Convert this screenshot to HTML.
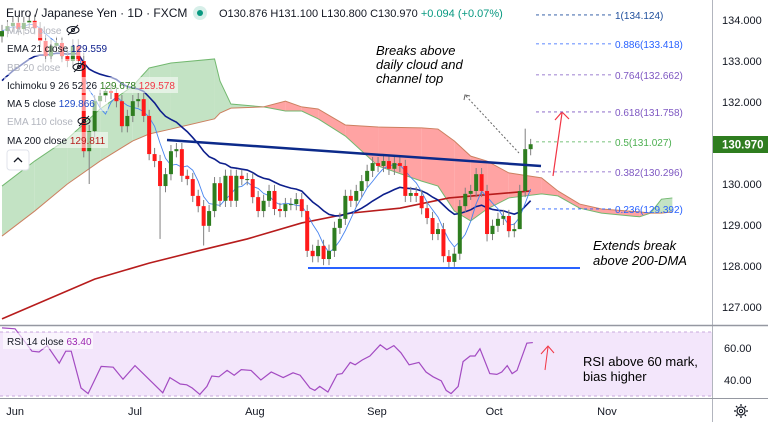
<!DOCTYPE html>
<html><head><meta charset="utf-8"><style>
html,body{margin:0;padding:0;background:#fff;}
svg{display:block;font-family:"Liberation Sans",sans-serif;}
</style></head><body>
<svg id="c" width="768" height="422" viewBox="0 0 768 422">
<rect x="0" y="0" width="768" height="422" fill="#fff"/>
<g id="cloud"></g>
<g id="lines"></g>
<g id="candles"></g>
<g id="draw">
  <line x1="167" y1="140" x2="541" y2="166" stroke="#0c2a8a" stroke-width="2.5"/>
  <line x1="308" y1="268" x2="580" y2="268" stroke="#2962ff" stroke-width="2"/>
  <line x1="466" y1="96" x2="519" y2="153" stroke="#666" stroke-width="1" stroke-dasharray="2,2"/>
  <polyline points="464,100 465,95 470,96" fill="none" stroke="#666" stroke-width="1"/>
  <line x1="553" y1="176" x2="562" y2="113" stroke="#f23645" stroke-width="1.2"/>
  <polyline points="555,120 562,112 569,119" fill="none" stroke="#f23645" stroke-width="1.2"/>
</g>
<g id="fib"></g>
<g font-style="italic" font-size="13" fill="#000">
  <text x="376" y="55">Breaks above</text>
  <text x="376" y="69">daily cloud and</text>
  <text x="376" y="83">channel top</text>
  <text x="593" y="250">Extends break</text>
  <text x="593" y="265">above 200-DMA</text>
</g>
<line x1="712.5" y1="0" x2="712.5" y2="422" stroke="#b2b5be"/>
<line x1="0" y1="325.5" x2="768" y2="325.5" stroke="#9598a1" stroke-width="1.5"/>
<line x1="0" y1="398.5" x2="768" y2="398.5" stroke="#9598a1"/>
<g id="yaxis" font-size="11" fill="#131722"></g>
<rect x="713" y="136" width="55" height="17" fill="#2e7d1f"/>
<text x="722" y="148.5" font-size="11.5" fill="#fff" font-weight="bold">130.970</text>
<rect x="0" y="332" width="712" height="64" fill="#f3e6fb"/>
<line x1="0" y1="332" x2="712" y2="332" stroke="#c8a9dd" stroke-dasharray="3,3"/>
<line x1="0" y1="396" x2="712" y2="396" stroke="#c8a9dd" stroke-dasharray="3,3"/>
<g id="rsi"></g>
<rect x="3" y="333" width="90" height="16" fill="#fff" opacity="0.6"/>
<text x="7" y="345" font-size="10" fill="#131722">RSI 14 close <tspan fill="#9c27b0">63.40</tspan></text>
<text x="724" y="352" font-size="11" fill="#131722">60.00</text>
<text x="724" y="384" font-size="11" fill="#131722">40.00</text>
<line x1="545" y1="370" x2="548" y2="347" stroke="#f23645" stroke-width="1"/>
<polyline points="541,354 548,346 554,353" fill="none" stroke="#f23645" stroke-width="1"/>
<text x="583" y="366" font-size="13" fill="#000">RSI above 60 mark,</text>
<text x="583" y="381" font-size="13" fill="#000">bias higher</text>
<g id="xaxis" font-size="11" fill="#131722"></g>
<g transform="translate(741,411)" stroke="#131722" fill="none">
  <circle r="4" stroke-width="1.2"/><circle r="1.6" stroke-width="1"/>
  <path d="M0-7V-5M0 5V7M-7 0H-5M5 0H7M-5-5L-3.6-3.6M3.6 3.6L5 5M-5 5L-3.6 3.6M3.6-3.6L5-5" stroke-width="1.2"/>
</g>
<g>
  <text x="6" y="17" font-size="12" fill="#131722">Euro / Japanese Yen · 1D · FXCM</text>
  <circle cx="200" cy="13" r="7" fill="#d7efe9"/>
  <circle cx="200" cy="13" r="3" fill="#089981"/>
  <text x="219" y="17" font-size="11" fill="#131722">O130.876  H131.100  L130.800  C130.970  <tspan fill="#089981">+0.094 (+0.07%)</tspan></text>
</g>
<g id="legend" font-size="10"></g>
<g>
  <rect x="7" y="150" width="22" height="20" rx="3" fill="#fff" stroke="#e0e3eb"/>
  <polyline points="14,162 18,158 22,162" fill="none" stroke="#131722" stroke-width="1.3"/>
</g>
</svg>
<script>
const closes=[133.73,133.85,133.93,133.78,133.93,133.98,133.80,133.49,133.12,133.37,133.44,133.12,133.00,133.37,133.00,130.80,131.29,132.02,132.15,132.27,132.22,132.02,131.41,131.66,132.02,132.07,131.66,130.73,130.56,129.95,130.24,130.80,130.85,130.20,130.12,129.71,129.46,128.98,129.34,130.02,129.59,130.20,129.59,130.20,130.12,130.12,129.68,129.34,129.59,129.83,129.39,129.34,129.51,129.51,129.63,129.34,128.37,128.24,128.49,128.17,128.37,128.93,129.15,129.71,129.59,129.83,130.07,130.32,130.51,130.44,130.56,130.37,130.51,130.44,129.71,129.78,129.71,129.41,129.17,128.78,128.90,128.24,128.10,128.30,129.46,129.76,129.83,130.24,129.83,128.78,128.98,129.15,129.22,128.85,128.90,129.83,130.85,130.97];
const firstOpen=133.60;
const wickLowOverride={16:130.0,29:128.66,37:128.5,83:127.98,89:128.6,95:128.9};
const wickHighOverride={96:131.35,97:131.10,15:133.2};
const ma200Idx=[0,17,27,36,45,55,64,73,82,97];
const ma200Val=[126.71,127.68,128.07,128.37,128.66,129.05,129.29,129.41,129.66,129.83];
const cloudIdx=[0,6,12,18,24,27,31,39,40,42,48,52,55,58,63,69,77,80,83,86,89,93,99,102,106,110,117,119,121,123];
const spanA=[129.95,130.56,131.10,131.83,132.39,132.83,132.95,133.05,132.51,131.95,131.88,131.78,131.78,131.59,131.17,130.44,130.07,129.95,129.34,129.10,129.39,129.66,129.76,129.71,129.41,129.29,129.20,129.29,129.63,129.66];
const spanB=[128.73,129.34,130.00,130.56,131.05,131.22,131.34,131.59,131.73,131.85,131.88,132.02,131.88,131.83,131.44,131.39,131.37,131.34,131.05,130.68,130.56,130.27,130.15,129.83,129.51,129.39,129.32,129.29,129.29,129.32];
const rsiIdx=[0,2.4,5.5,6.8,8.3,10.5,11.7,12.7,14.5,15.8,18.2,20.4,22.2,24.4,25.9,27.7,29.5,30.8,32.7,33.9,34.9,36.3,37.6,38.5,39.8,41.3,42.6,43.9,45.7,47.5,49.4,51.6,53.4,54.7,56.5,57.4,58.3,59.8,61.5,62.4,63.9,64.8,66.1,67.5,69.4,70.6,71.9,73.2,74.7,76.5,77.8,79.1,80.6,81.5,82.4,83.7,84.6,85.9,86.8,87.7,89.5,90.8,91.7,92.7,93.6,94.5,96.3,97.4];
const rsiVal=[72.6,72,58,57.5,61.5,50.5,58,58,35,31.5,48.5,48,40.5,49,44,38,32,41.5,37.5,37,35,31,36,42.5,42,46,43,46.5,46,40,45,41.5,44.5,43,35,33.5,36,32.5,43.5,44,51,49.5,52.5,55,62,59,61.5,57,49.5,51,45,42,39.5,33.5,31.5,36,51.5,55,55,59.5,44,43.5,45,49,44,46,63,63.4];
const priceTicks=[134,133,132,131,130,129,128,127];
const fibRatio=["1","0.886","0.764","0.618","0.5","0.382","0.236"];
const fibPrice=[134.124,133.418,132.662,131.758,131.027,130.296,129.392];
const fibColor=["#1e4e9c","#2962ff","#7e57c2","#7e57c2","#4caf50","#7e57c2","#2962ff"];
const monthLabels=["Jun","Jul","Aug","Sep","Oct","Nov"];
const monthIdx=[2.4,24.4,46.4,68.8,90.3,111];

const NS="http://www.w3.org/2000/svg";
function X(i){return 2+i*5.45;}
function Y(p){return 184-(p-130)*41;}
function RY(v){return 348-(v-60)*1.6;}
function mk(tag,attrs,parent){const e=document.createElementNS(NS,tag);for(const k in attrs)e.setAttribute(k,attrs[k]);parent.appendChild(e);return e;}

const cg=document.getElementById('cloud');
for(let k=0;k<cloudIdx.length-1;k++){
  const i0=cloudIdx[k],i1=cloudIdx[k+1],a0=spanA[k],a1=spanA[k+1],b0=spanB[k],b1=spanB[k+1];
  const d0=a0-b0,d1=a1-b1;
  let segs=[];
  if(d0*d1<0){const t=d0/(d0-d1);const im=i0+(i1-i0)*t,pm=a0+(a1-a0)*t;
    segs.push([i0,a0,b0,im,pm,pm,d0>=0]);segs.push([im,pm,pm,i1,a1,b1,d1>=0]);}
  else segs.push([i0,a0,b0,i1,a1,b1,(d0+d1)>=0]);
  segs.forEach(s=>{
    const poly=mk('polygon',{points:`${X(s[0])},${Y(s[1])} ${X(s[3])},${Y(s[4])} ${X(s[3])},${Y(s[5])} ${X(s[0])},${Y(s[2])}`,fill:s[6]?'#c3e3c4':'#ffa3a3',stroke:'none'},cg);
    
    
  });
}
let pa='',pb='';
cloudIdx.forEach((i,k)=>{pa+=`${X(i)},${Y(spanA[k])} `;pb+=`${X(i)},${Y(spanB[k])} `;});
const la=mk('polyline',{points:pa,fill:'none',stroke:'#72b86f','stroke-width':1},cg);


const lb=mk('polyline',{points:pb,fill:'none',stroke:'#cc8060','stroke-width':1},cg);



const lg=document.getElementById('lines');
let s='';ma200Idx.forEach((i,k)=>s+=`${X(i)},${Y(ma200Val[k])} `);
const m200=mk('polyline',{points:s,fill:'none',stroke:'#b71c1c','stroke-width':1.6},lg);


let ema=132.4;const kf=2/22;s='';
closes.forEach((c,i)=>{ema=c*kf+ema*(1-kf);s+=`${X(i)},${Y(ema)} `;});
const e21=mk('polyline',{points:s,fill:'none',stroke:'#0d1f8c','stroke-width':1.6},lg);


s='';
closes.forEach((c,i)=>{const a=closes.slice(Math.max(0,i-4),i+1);const m=a.reduce((x,y)=>x+y,0)/a.length;s+=`${X(i)},${Y(m)} `;});
const m5=mk('polyline',{points:s,fill:'none',stroke:'#4a86f0','stroke-width':0.9},lg);



const kg=document.getElementById('candles');
closes.forEach((c,i)=>{
  const o=i===0?firstOpen:closes[i-1];
  const up=c>=o;
  const hi=wickHighOverride[i]!==undefined?wickHighOverride[i]:Math.max(o,c)+0.15;
  const lo=wickLowOverride[i]!==undefined?wickLowOverride[i]:Math.min(o,c)-0.15;
  const x=X(i);
  const w=mk('line',{x1:x,x2:x,y1:Y(hi),y2:Y(lo),stroke:'#808080','stroke-width':1},kg);
  
  
  const top=Y(Math.max(o,c)),h=Math.max(1,Y(Math.min(o,c))-top);
  const b=mk('rect',{x:x-2,y:top,width:4,height:h,fill:up?'#2e7d1f':'#ff1a1a'},kg);
  
  
});

const fg=document.getElementById('fib');
fibPrice.forEach((p,k)=>{
  const y=Y(p);
  const l=mk('line',{x1:536,x2:612,y1:y,y2:y,stroke:fibColor[k],'stroke-dasharray':'3,3','stroke-width':0.8},fg);
  
  
  const t=mk('text',{x:615,y:y+4,'font-size':10,fill:fibColor[k]},fg);
  t.textContent=`${fibRatio[k]}(${p.toFixed(3)})`;
  
  
});

const yg=document.getElementById('yaxis');
priceTicks.forEach(p=>{
  const t=mk('text',{x:722,y:Y(p)+4},yg);
  t.textContent=p.toFixed(3);
  
  
});

const rg=document.getElementById('rsi');
s='';rsiIdx.forEach((i,k)=>s+=`${X(i)},${RY(rsiVal[k])} `);
const rl=mk('polyline',{points:s,fill:'none',stroke:'#a34bc2','stroke-width':1.2},rg);



const xg=document.getElementById('xaxis');
monthLabels.forEach((m,k)=>{
  const t=mk('text',{x:X(monthIdx[k]),y:415,'text-anchor':'middle'},xg);
  t.textContent=m;
  
  
});

const lgd=document.getElementById('legend');
const rows=[
  {y:34,parts:[["MA 50 close","#b2b5be"]],eye:73},
  {y:52,parts:[["EMA 21 close","#131722"],[" 129.559","#0d1f8c"]]},
  {y:71,parts:[["BB 20 close","#b2b5be"]],eye:79},
  {y:89,parts:[["Ichimoku 9 26 52 26","#131722"],[" 129.678","#2e7d1f"],["  129.578","#f23645"]]},
  {y:107,parts:[["MA 5 close","#131722"],[" 129.866","#1e4bc8"]]},
  {y:125,parts:[["EMA 110 close","#b2b5be"]],eye:84},
  {y:144,parts:[["MA 200 close","#131722"],[" 129.811","#b71c1c"]]}
];
rows.forEach(r=>{
  const bg=mk('rect',{x:4,y:r.y-12,width:r.parts.length>2?174:(r.parts.length>1?104:74),height:16,fill:'#fff',opacity:0.55},lgd);
  
  
  const t=mk('text',{x:7,y:r.y,'xml:space':'preserve'},lgd);
  
  
  r.parts.forEach(p=>{const ts=mk('tspan',{fill:p[1]},t);ts.textContent=p[0];});
  if(r.eye){
    const g=mk('g',{transform:`translate(${r.eye},${r.y-4})`,stroke:'#131722',fill:'none','stroke-width':1},lgd);
    
    
    mk('ellipse',{rx:6,ry:3.5},g);mk('circle',{r:1.5},g);mk('line',{x1:-5,y1:5,x2:5,y2:-5},g);
  }
});
</script>
</body></html>
